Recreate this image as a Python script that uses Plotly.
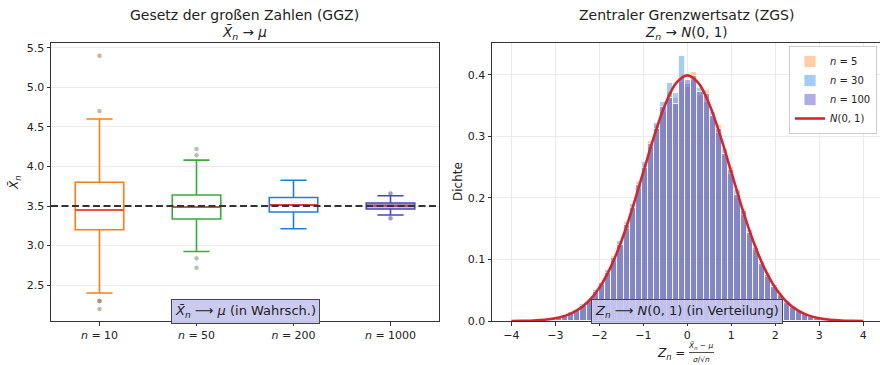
import plotly.graph_objects as go
import numpy as np

# ---------------- data: left panel (law of large numbers) ----------------
MU = 3.5
GROUP_N = ["10", "50", "200", "1000"]
Q1 = [3.20, 3.335, 3.425, 3.462]
MEDIAN = [3.45, 3.487, 3.515, 3.505]
Q3 = [3.80, 3.64, 3.607, 3.538]
LOWER = [2.40, 2.925, 3.213, 3.386]
UPPER = [4.60, 4.08, 3.826, 3.63]
FLIERS = [[2.30, 2.30, 2.20, 4.70, 5.40], [2.84, 2.72, 4.14, 4.22], [], [3.344, 3.657]]

# ---------------- data: right panel (central limit theorem) ----------------
BIN_START = -3.13
BIN_WIDTH = 0.14
DENS_N5 = [0.002, 0.005, 0.009, 0.011, 0.020, 0.022, 0.036, 0.044, 0.064, 0.076,
           0.106, 0.122, 0.160, 0.180, 0.225, 0.246, 0.292, 0.318, 0.340, 0.372,
           0.362, 0.388, 0.380, 0.404, 0.365, 0.375, 0.328, 0.318, 0.268, 0.250,
           0.200, 0.182, 0.140, 0.122, 0.090, 0.078, 0.052, 0.046, 0.028, 0.024,
           0.014, 0.012, 0.006, 0.005, 0.002]
DENS_N30 = [0.003, 0.007, 0.008, 0.014, 0.016, 0.027, 0.031, 0.050, 0.058, 0.083,
            0.098, 0.130, 0.150, 0.190, 0.214, 0.258, 0.283, 0.322, 0.356, 0.386,
            0.370, 0.430, 0.385, 0.392, 0.378, 0.356, 0.340, 0.305, 0.279, 0.238,
            0.212, 0.172, 0.148, 0.116, 0.096, 0.071, 0.058, 0.040, 0.033, 0.021,
            0.017, 0.010, 0.008, 0.004, 0.003]
DENS_N100 = [0.004, 0.006, 0.010, 0.012, 0.018, 0.024, 0.033, 0.047, 0.062, 0.078,
             0.103, 0.124, 0.156, 0.183, 0.221, 0.249, 0.288, 0.312, 0.348, 0.362,
             0.352, 0.395, 0.392, 0.398, 0.372, 0.368, 0.333, 0.312, 0.272, 0.246,
             0.205, 0.178, 0.143, 0.119, 0.092, 0.075, 0.055, 0.043, 0.030, 0.023,
             0.016, 0.011, 0.007, 0.005, 0.003]
CURVE_Z = [-4.0, -3.75, -3.5, -3.25, -3.0, -2.75, -2.5, -2.25, -2.0, -1.75, -1.5,
           -1.25, -1.0, -0.75, -0.5, -0.25, 0.0, 0.25, 0.5, 0.75, 1.0, 1.25, 1.5,
           1.75, 2.0, 2.25, 2.5, 2.75, 3.0, 3.25, 3.5, 3.75, 4.0]
CURVE_DENS = [0.0001, 0.0004, 0.0009, 0.0020, 0.0044, 0.0091, 0.0175, 0.0317,
              0.0540, 0.0863, 0.1295, 0.1826, 0.2420, 0.3011, 0.3521, 0.3867,
              0.3989, 0.3867, 0.3521, 0.3011, 0.2420, 0.1826, 0.1295, 0.0863,
              0.0540, 0.0317, 0.0175, 0.0091, 0.0044, 0.0020, 0.0009, 0.0004, 0.0001]
HIST_LABELS = ["5", "30", "100"]

# ---------------- styling ----------------
W, H = 880, 365
FONT = "DejaVu Sans"
TXT = "#222222"
AX = "#333333"
GRID = "#ebebeb"
BOX_COLORS = ["#ff7f0e", "#3aa83a", "#1f7fd8", "#4646c0"]
BOX_FILLS = ["rgba(255,255,255,0)", "rgba(255,255,255,0)", "rgba(255,255,255,0)", "rgba(120,120,215,0.45)"]
FLIER_COLORS = ["rgba(150,105,70,0.5)", "rgba(110,150,110,0.55)", "rgba(0,0,0,0)", "rgba(90,90,140,0.6)"]
HIST_COLORS = ["rgba(255,127,14,0.38)", "rgba(30,136,229,0.42)", "rgba(100,90,205,0.5)"]
MEDIAN_COLOR = "#e0393a"


def px(x):
    return x / W


def py(y):
    return 1 - y / H


fig = go.Figure()

# ----- left panel: boxplots -----
positions = np.arange(1, len(GROUP_N) + 1)
box_w = 0.5
for i, pos in enumerate(positions):
    fig.add_trace(go.Box(
        x=[pos], q1=[Q1[i]], median=[MEDIAN[i]], q3=[Q3[i]],
        lowerfence=[LOWER[i]], upperfence=[UPPER[i]],
        width=box_w, whiskerwidth=0.54, boxpoints=False,
        line=dict(color=BOX_COLORS[i], width=1.6), fillcolor=BOX_FILLS[i],
        showlegend=False, hoverinfo="skip", xaxis="x", yaxis="y"))
    fig.add_trace(go.Scatter(
        x=[pos - box_w / 2, pos + box_w / 2], y=[MEDIAN[i], MEDIAN[i]],
        mode="lines", line=dict(color=MEDIAN_COLOR, width=1.6),
        showlegend=False, hoverinfo="skip", xaxis="x", yaxis="y"))
    if FLIERS[i]:
        fig.add_trace(go.Scatter(
            x=[pos] * len(FLIERS[i]), y=FLIERS[i], mode="markers",
            marker=dict(size=4.5, color=FLIER_COLORS[i], line=dict(width=0)),
            showlegend=False, hoverinfo="skip", xaxis="x", yaxis="y"))

fig.add_shape(type="line", xref="x domain", yref="y", x0=0, x1=1, y0=MU, y1=MU,
              line=dict(color="#333333", width=2, dash="7px,3.5px"), layer="above")

# ----- right panel: histograms -----
bin_centers = BIN_START + BIN_WIDTH * (np.arange(len(DENS_N100)) + 0.5)
for lab, dens, col in zip(HIST_LABELS, [DENS_N5, DENS_N30, DENS_N100], HIST_COLORS):
    fig.add_trace(go.Bar(
        x=bin_centers, y=dens, width=BIN_WIDTH,
        marker=dict(color=col, line=dict(color="rgba(255,255,255,0.9)", width=0.9)),
        name=f"<i>n</i> = {lab}", xaxis="x2", yaxis="y2", hoverinfo="skip"))

fig.add_trace(go.Scatter(
    x=CURVE_Z, y=CURVE_DENS, mode="lines", line=dict(color="#d62728", width=2.6, shape="spline"),
    name="<i>N</i>(0, 1)", xaxis="x2", yaxis="y2", hoverinfo="skip"))

# ----- axes -----
ydom = [py(321), py(43)]
axis_common = dict(showline=True, mirror=True, linecolor=AX, linewidth=1,
                   ticks="outside", ticklen=3.5, tickwidth=1, tickcolor=AX,
                   tickfont=dict(size=11, color=TXT, family=FONT),
                   zeroline=False, automargin=False)

fig.update_layout(
    width=W, height=H, margin=dict(l=0, r=0, t=0, b=0),
    paper_bgcolor="white", plot_bgcolor="white",
    font=dict(family=FONT, color=TXT),
    barmode="overlay", bargap=0,
    xaxis=dict(domain=[px(51), px(439)], range=[0.5, 4.5],
               tickvals=list(positions), ticktext=[f"<i>n</i> = {n}" for n in GROUP_N],
               showgrid=False, anchor="y", **axis_common),
    yaxis=dict(domain=ydom, range=[2.047, 5.56], dtick=0.5, tick0=0, tickformat=".1f",
               showgrid=True, gridcolor=GRID, gridwidth=1, anchor="x", **axis_common),
    xaxis2=dict(domain=[px(492), 1.0], range=[-4.44, 4.38], dtick=1, tick0=0,
                showgrid=True, gridcolor=GRID, gridwidth=1, anchor="y2", **axis_common),
    yaxis2=dict(domain=ydom, range=[0, 0.4515], dtick=0.1, tick0=0, tickformat=".1f",
                showgrid=True, gridcolor=GRID, gridwidth=1, anchor="x2", **axis_common),
    legend=dict(x=px(877), y=py(46), xanchor="right", yanchor="top",
                bgcolor="rgba(255,255,255,0.9)", bordercolor="#cccccc", borderwidth=1,
                font=dict(size=10, color=TXT, family=FONT), itemwidth=30,
                tracegroupgap=0),
)

# ----- text annotations -----
def note(text, x, y, size, **kw):
    fig.add_annotation(text=text, x=px(x), y=py(y), xref="paper", yref="paper",
                       xanchor=kw.pop("xanchor", "center"), yanchor=kw.pop("yanchor", "middle"),
                       showarrow=False, font=dict(size=size, color=TXT, family=FONT), **kw)

note("Gesetz der großen Zahlen (GGZ)", 245, 15, 14)
note("<i>X̄<sub>n</sub></i> → <i>μ</i>", 245, 33, 13.5)
note("Zentraler Grenzwertsatz (ZGS)", 686, 15, 14)
note("<i>Z<sub>n</sub></i> → <i>N</i>(0, 1)", 686, 33, 13.5)

note("<i>X̄<sub>n</sub></i>", 15, 182, 12, textangle=-90)
note("Dichte", 458, 182, 12, textangle=-90)

note("<i>Z<sub>n</sub></i> =", 671, 354, 12)
note("<i>X̄<sub>n</sub></i> − <i>μ</i>", 701, 346, 7.5)
note("<i>σ</i>/√<i>n</i>", 701, 359, 7.5)
fig.add_shape(type="line", xref="paper", yref="paper", x0=px(689), x1=px(714),
              y0=py(352.5), y1=py(352.5), line=dict(color=TXT, width=0.8))

note("<i>X̄<sub>n</sub></i> ⟶ <i>μ</i> (in Wahrsch.)", 245.5, 311, 13,
     bgcolor="rgba(200,200,238,0.95)", bordercolor="#444444", borderwidth=1, borderpad=3)
note("<i>Z<sub>n</sub></i> ⟶ <i>N</i>(0, 1) (in Verteilung)", 686.5, 311.5, 13,
     bgcolor="rgba(200,200,238,0.9)", bordercolor="#444444", borderwidth=1, borderpad=3)

fig.write_html("out.html", config={"displayModeBar": False},
               post_script="document.body.style.margin='0';document.body.style.overflow='hidden';")
